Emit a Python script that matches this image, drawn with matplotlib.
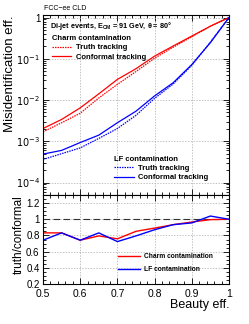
import matplotlib
matplotlib.use("Agg")
import matplotlib.pyplot as plt
import numpy as np
from matplotlib.ticker import FixedLocator, FuncFormatter, LogLocator, MultipleLocator, NullFormatter

plt.rcParams["font.family"] = ["Liberation Sans", "DejaVu Sans"]

# beauty efficiency working points
beauty_eff = [0.50, 0.55, 0.60, 0.65, 0.70, 0.75, 0.80, 0.85, 0.90, 0.95, 1.00]

# log10 of the mis-id efficiency
charm_conformal_log = [-2.69, -2.47, -2.19, -1.85, -1.50, -1.24, -0.935, -0.69, -0.45, -0.21, 0.0]
charm_truth_log = [-2.77, -2.55, -2.32, -1.95, -1.62, -1.31, -0.985, -0.72, -0.465, -0.212, 0.0]
lf_conformal_log = [-3.31, -3.22, -3.03, -2.85, -2.55, -2.27, -1.90, -1.58, -1.14, -0.61, 0.0]
lf_truth_log = [-3.44, -3.30, -3.16, -2.93, -2.69, -2.37, -1.96, -1.61, -1.16, -0.593, 0.0]

charm_conformal = 10 ** np.array(charm_conformal_log)
charm_truth = 10 ** np.array(charm_truth_log)
lf_conformal = 10 ** np.array(lf_conformal_log)
lf_truth = 10 ** np.array(lf_truth_log)

charm_ratio = charm_truth / charm_conformal
lf_ratio = lf_truth / lf_conformal

RED = "#ff0000"
BLUE = "#0000ff"
W, H = 249, 324


def style_axis(ax):
    ax.tick_params(which="both", direction="in", top=True, right=True,
                   labelsize=7, pad=2, width=0.6)
    ax.tick_params(which="major", length=4)
    ax.tick_params(which="minor", length=2)
    for s in ax.spines.values():
        s.set_linewidth(0.8)
    ax.grid(which="major", color="#aaaaaa", linestyle=(0, (2, 2)), linewidth=0.5)


fig = plt.figure(figsize=(W / 100, H / 100), dpi=100)
ax = fig.add_axes([43 / W, 1 - 195 / H, 186 / W, 180 / H])
rax = fig.add_axes([43 / W, 1 - 284 / H, 186 / W, 89 / H], sharex=ax)

# top panel: mis-id efficiency
l_ct, = ax.plot(beauty_eff, charm_truth, color=RED, lw=0.9, ls=(0, (1.2, 0.8)))
l_cc, = ax.plot(beauty_eff, charm_conformal, color=RED, lw=0.9)
l_lt, = ax.plot(beauty_eff, lf_truth, color=BLUE, lw=0.9, ls=(0, (1.2, 0.8)))
l_lc, = ax.plot(beauty_eff, lf_conformal, color=BLUE, lw=0.9)

ax.set_yscale("log")
ax.set_xlim(0.5, 1.0)
ax.set_ylim(5e-5, 1.15)
ax.yaxis.set_major_locator(LogLocator(base=10, numticks=10))
ax.yaxis.set_minor_locator(LogLocator(base=10, subs=np.arange(2, 10), numticks=10))
ax.yaxis.set_minor_formatter(NullFormatter())
ax.yaxis.set_major_formatter(FuncFormatter(
    lambda v, p: "1" if abs(v - 1) < 1e-9 else r"$10^{%d}$" % round(np.log10(v))))
ax.xaxis.set_major_locator(MultipleLocator(0.1))
ax.xaxis.set_minor_locator(MultipleLocator(0.02))
style_axis(ax)
ax.tick_params(labelbottom=False)
ax.set_ylabel("Misidentification eff.", fontsize=9.5, loc="top", labelpad=0)

fig.text(44 / W, 1 - 9 / H, "FCC\u2212ee CLD", fontsize=5, va="center", ha="left")
ax.text(0.035, 0.975, r"Di-jet events, E$_{\mathregular{CM}}$ = 91 GeV, $\mathregular{\theta}$ = 80°",
        transform=ax.transAxes, fontsize=5.2, fontweight="bold", va="top", ha="left")

leg_kw = dict(frameon=False, fontsize=5.5, handlelength=2.6, handletextpad=0.6,
              labelspacing=0.25, borderaxespad=0, alignment="left",
              title_fontproperties={"weight": "bold", "size": 5.5})
leg1 = ax.legend([l_ct, l_cc], ["Truth tracking", "Conformal tracking"],
                 title="Charm contamination", loc="upper left",
                 bbox_to_anchor=(0.03, 0.905), **leg_kw)
for t in leg1.get_texts():
    t.set_fontweight("bold")
ax.add_artist(leg1)
leg2 = ax.legend([l_lt, l_lc], ["Truth tracking", "Conformal tracking"],
                 title="LF contamination", loc="upper left",
                 bbox_to_anchor=(0.365, 0.235), **leg_kw)
for t in leg2.get_texts():
    t.set_fontweight("bold")

# bottom panel: ratio truth / conformal
rax.axhline(1.0, color="#333333", lw=0.8, ls=(0, (6, 3)))
r_c, = rax.plot(beauty_eff, charm_ratio, color=RED, lw=1.0)
r_l, = rax.plot(beauty_eff, lf_ratio, color=BLUE, lw=1.0)
rax.set_ylim(0.2, 1.3)
rax.yaxis.set_major_locator(FixedLocator([0.2, 0.4, 0.6, 0.8, 1.0, 1.2]))
rax.yaxis.set_minor_locator(MultipleLocator(0.05))
rax.yaxis.set_major_formatter(FuncFormatter(lambda v, p: f"{v:g}"))
rax.xaxis.set_major_formatter(FuncFormatter(lambda v, p: f"{v:g}"))
style_axis(rax)
rax.tick_params(axis="x", labelsize=7.5, pad=3.5)
rax.tick_params(axis="y", pad=2.5)
rax.set_ylabel("truth/conformal", fontsize=8.5, loc="top", labelpad=1)
rax.set_xlabel("Beauty eff.", fontsize=9, loc="right", labelpad=0)

leg3 = rax.legend([r_c, r_l], ["Charm contamination", "LF contamination"],
                  loc="upper left", bbox_to_anchor=(0.39, 0.38), frameon=False,
                  fontsize=4.8, handlelength=3.2, handletextpad=0.6,
                  labelspacing=0.9, borderaxespad=0)
for t in leg3.get_texts():
    t.set_fontweight("bold")

fig.savefig("out.png", dpi=100)
